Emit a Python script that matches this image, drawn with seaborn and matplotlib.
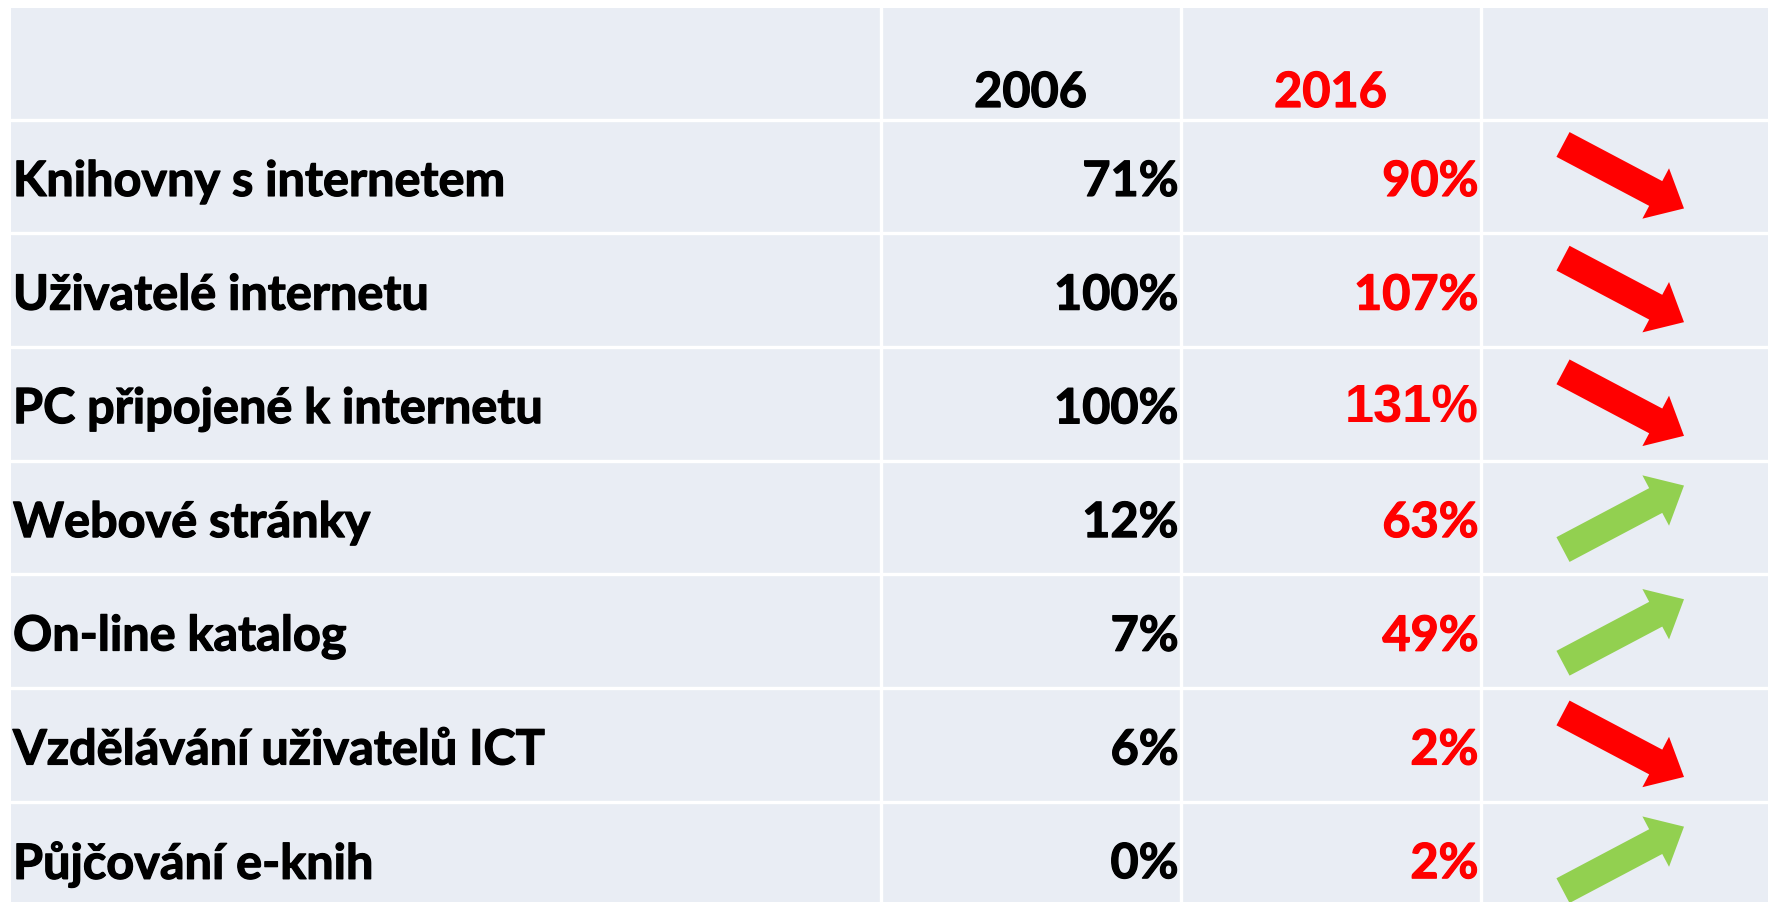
import numpy as np
import pandas as pd
import matplotlib
matplotlib.use("Agg")
import matplotlib.pyplot as plt
import matplotlib.patheffects as pe
from matplotlib.patches import FancyArrow, Rectangle
import seaborn as sns

# Table data
labels = [
    "Knihovny s internetem",
    "Uživatelé internetu",
    "PC připojené k internetu",
    "Webové stránky",
    "On-line katalog",
    "Vzdělávání uživatelů ICT",
    "Půjčování e-knih",
]
years = ["2006", "2016"]
vals_2006 = [71, 100, 100, 12, 7, 6, 0]
vals_2016 = [90, 107, 131, 63, 49, 2, 2]
trend = ["down", "down", "down", "up", "up", "down", "up"]

df = pd.DataFrame({"label": labels, "v2006": vals_2006, "v2016": vals_2016, "trend": trend})

sns.set_theme(style="white")
plt.rcParams["font.family"] = ["Lato", "DejaVu Sans"]

BG = "#E9EDF4"
RED = "#FF0000"
GREEN = "#92D050"
arrow_colors = {"down": RED, "up": GREEN}

W, H = 1768, 903
fig = plt.figure(figsize=(W / 100, H / 100), dpi=100)
ax = fig.add_axes([0, 0, 1, 1])
ax.set_xlim(0, W)
ax.set_ylim(H, 0)
ax.axis("off")

# layout
left, top = 11, 9
header_bottom = 120.6
row_h = 113.7
col_edges = [left, 880.6, 1180.6, 1480.5, W + 5]
n = len(df)
bottom = header_bottom + n * row_h

ax.add_patch(Rectangle((left, top), W - left + 5, bottom - top, color=BG, lw=0, zorder=0))

# grid lines
for i in range(n):
    y = header_bottom + i * row_h
    ax.plot([left, W], [y, y], color="white", lw=2.4, zorder=1)
for x in col_edges[1:4]:
    ax.plot([x, x], [top, bottom], color="white", lw=2.4, zorder=1)

fs = 35
def heavy(c):
    return [pe.withStroke(linewidth=0.9, foreground=c)]

# header
year_colors = ["black", RED]
for j, yr in enumerate(years):
    cx = (col_edges[j + 1] + col_edges[j + 2]) / 2
    ax.text(cx, 108, yr, ha="center", va="baseline", fontsize=fs,
            fontweight="bold", color=year_colors[j], zorder=2,
            path_effects=heavy(year_colors[j]))

for i, row in df.iterrows():
    cy = header_bottom + (i + 0.5) * row_h + 5
    ax.text(left + 2, cy, row["label"], ha="left", va="center", fontsize=fs,
            fontweight="bold", color="black", zorder=2, path_effects=heavy("black"))
    ax.text(col_edges[2] - 2, cy, f"{row['v2006']}%", ha="right", va="center",
            fontsize=fs, fontweight="bold", color="black", zorder=2,
            path_effects=heavy("black"))
    if row["v2016"] == 131:
        ax.text(col_edges[3] - 2, cy - 1, f"{row['v2016']}%", ha="right", va="center",
                fontsize=fs * 1.08, fontweight="bold", color=RED, zorder=2,
                family=["Liberation Sans", "DejaVu Sans"])
    else:
        ax.text(col_edges[3] - 2, cy, f"{row['v2016']}%", ha="right", va="center",
                fontsize=fs, fontweight="bold", color=RED, zorder=2,
                path_effects=heavy(RED))

    # trend arrow
    cy0 = header_bottom + (i + 0.5) * row_h
    sign = 1 if row["trend"] == "down" else -1
    x0, x1 = 1563, 1684
    y0 = cy0 - sign * 32
    y1 = cy0 + sign * 32
    ax.add_patch(FancyArrow(x0, y0, x1 - x0, y1 - y0, width=28, head_width=57,
                            head_length=32, length_includes_head=True,
                            color=arrow_colors[row["trend"]], lw=0, zorder=3))

fig.savefig("out.png", dpi=100, facecolor="white")
